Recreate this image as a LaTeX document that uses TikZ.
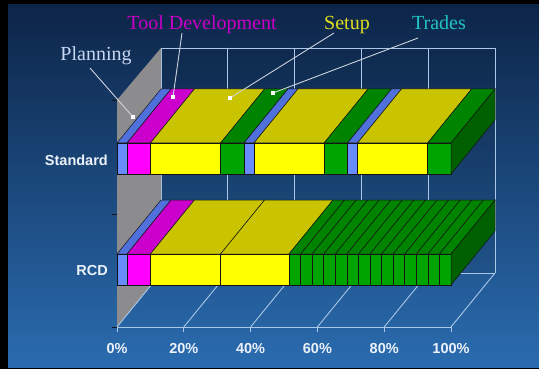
\documentclass[tikz,border=0pt]{standalone}
\usepackage{fontspec}
\setmainfont{Liberation Serif}
\newfontfamily\axisfont{Liberation Sans}
\definecolor{bgtop}{RGB}{13,37,72}
\definecolor{bgbot}{RGB}{42,108,176}
\definecolor{gridc}{RGB}{170,200,232}
\definecolor{wallc}{RGB}{140,140,142}
\definecolor{edgec}{RGB}{20,20,20}
\definecolor{ptrc}{RGB}{205,212,222}
\definecolor{planF}{RGB}{104,140,255}
\definecolor{planT}{RGB}{80,112,220}
\definecolor{toolF}{RGB}{255,0,255}
\definecolor{toolT}{RGB}{204,0,204}
\definecolor{setF}{RGB}{255,255,0}
\definecolor{setT}{RGB}{202,196,0}
\definecolor{trdF}{RGB}{0,164,0}
\definecolor{trdT}{RGB}{0,132,0}
\definecolor{trdS}{RGB}{0,96,0}
\definecolor{planLab}{RGB}{200,216,242}
\definecolor{toolLab}{RGB}{200,0,200}
\definecolor{setLab}{RGB}{222,222,30}
\definecolor{trdLab}{RGB}{32,196,196}
% one bar segment: front-top y, start %, end %, front colour, top colour
\newcommand{\barseg}[5]{%
  \filldraw[fill=#5, draw=edgec, line width=.5pt]
    ({117+3.34*#2},#1) -- ({117+3.34*#3},#1) -- ({161+3.34*#3},#1-54) -- ({161+3.34*#2},#1-54) -- cycle;
  \filldraw[fill=#4, draw=edgec, line width=.5pt]
    ({117+3.34*#2},#1) rectangle ({117+3.34*#3},#1+31);}
% right end face of a bar
\newcommand{\barend}[2]{%
  \filldraw[fill=#2, draw=edgec, line width=.5pt]
    (451,#1) -- (495,#1-54) -- (495,#1-23) -- (451,#1+31) -- cycle;}
\begin{document}
\begin{tikzpicture}[x=1pt,y=-1pt,
  gridline/.style={draw=gridc, line width=.9pt},
  ptr/.style={draw=ptrc, line width=.9pt},
  lab/.style={font=\fontsize{20}{24}\selectfont, inner sep=0pt, anchor=base},
  axl/.style={font=\axisfont\bfseries\fontsize{14.5}{17}\selectfont, text={rgb,255:red,236;green,242;blue,250}, inner sep=0pt},
  tip/.style={fill=white, inner sep=0pt, minimum size=3.4pt, rectangle}]
\useasboundingbox (0,0) rectangle (539,369);
% frame and background
\fill[black] (0,0) rectangle (539,369);
\shade[top color=bgtop, bottom color=bgbot] (8,5) rectangle (539,367);
% back wall
\fill[black, opacity=.08] (161,48) rectangle (495,273);
\draw[gridline] (161,48) -- (495,48);
\foreach \p in {0,20,...,100}
  \draw[gridline] ({161+3.34*\p},48) -- ({161+3.34*\p},273);
% side wall
\fill[wallc] (117,100) -- (161,48) -- (161,273) -- (117,327) -- cycle;
% floor
\draw[gridline] (117,327) -- (451,327);
\draw[gridline] (161,273) -- (495,273);
\foreach \p in {0,20,...,100} {
  \draw[gridline] ({117+3.34*\p},327) -- ({161+3.34*\p},273);
  \draw[gridline] ({117+3.34*\p},327) -- ({117+3.34*\p},332);
}
\foreach \t in {100,214,327}
  \draw[edgec, line width=.8pt] (112,\t) -- (117,\t);
% Standard bar
\barseg{143}{0}{3}{planF}{planT}
\barseg{143}{3}{10}{toolF}{toolT}
\barseg{143}{10}{31}{setF}{setT}
\barseg{143}{31}{38}{trdF}{trdT}
\barseg{143}{38}{41}{planF}{planT}
\barseg{143}{41}{62}{setF}{setT}
\barseg{143}{62}{69}{trdF}{trdT}
\barseg{143}{69}{72}{planF}{planT}
\barseg{143}{72}{93}{setF}{setT}
\barseg{143}{93}{100}{trdF}{trdT}
\barend{143}{trdS}
% RCD bar
\barseg{254}{0}{3}{planF}{planT}
\barseg{254}{3}{10}{toolF}{toolT}
\barseg{254}{10}{31}{setF}{setT}
\barseg{254}{31}{51.5}{setF}{setT}
\foreach \k in {0,...,13} {
  \pgfmathsetmacro{\pa}{51.5+48.5/14*\k}
  \pgfmathsetmacro{\pb}{51.5+48.5/14*(\k+1)}
  \barseg{254}{\pa}{\pb}{trdF}{trdT}
}
\barend{254}{trdS}
% category and value labels
\node[axl, anchor=east] (standard) at (108,160) {Standard};
\node[axl, anchor=east] (rcd) at (108,271) {RCD};
\foreach \p/\n in {0/p0,20/p20,40/p40,60/p60,80/p80,100/p100}
  \node[axl] (\n) at ({117+3.34*\p},349) {\p\%};
% legend labels with pointers
\node[lab, text=planLab] (planning) at (96,61) {Planning};
\node[lab, text=toolLab] (tooldev) at (202,30) {Tool Development};
\node[lab, text=setLab] (setup) at (347,30) {Setup};
\node[lab, text=trdLab] (trades) at (439,30) {Trades};
\coordinate (planS) at (90,68);   \coordinate (planE) at (133,117);
\coordinate (toolS) at (182,33);  \coordinate (toolE) at (173,97);
\coordinate (setS) at (334,33);   \coordinate (setE) at (230,98);
\coordinate (trdS) at (418,38);   \coordinate (trdE) at (273,93);
\foreach \a/\b in {planS/planE,toolS/toolE,setS/setE,trdS/trdE} {
  \draw[ptr] (\a) -- (\b);
  \node[tip] at (\b) {};
}
\end{tikzpicture}
\end{document}
